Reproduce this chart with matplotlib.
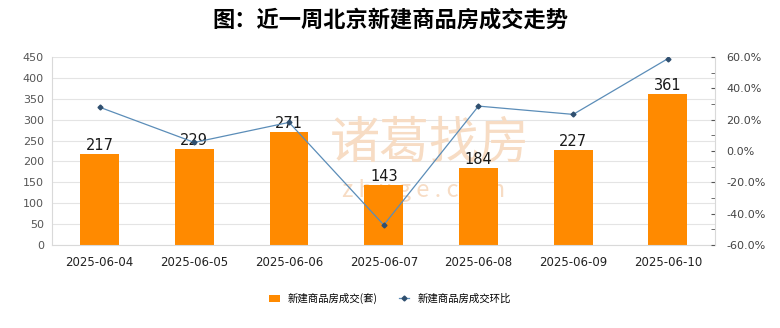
import matplotlib

matplotlib.use("Agg")

import matplotlib.pyplot as plt
from matplotlib.ticker import FuncFormatter, MultipleLocator

plt.rcParams["font.family"] = ["Noto Sans CJK SC", "DejaVu Sans"]

dates = ["2025-06-04", "2025-06-05", "2025-06-06", "2025-06-07", "2025-06-08", "2025-06-09", "2025-06-10"]
deals = [217, 229, 271, 143, 184, 227, 361]
mom_pct = [28.0, 5.5, 18.3, -47.2, 28.7, 23.4, 59.0]

BAR_COLOR = "#ff8a00"
LINE_COLOR = "#5b8db8"
GRID_COLOR = "#e4e4e4"
MARK_COLOR = "#f7dcc4"

fig = plt.figure(figsize=(7.8, 3.28), dpi=100)
ax = fig.add_axes([0.067, 0.253, 0.85, 0.573])
x = list(range(len(dates)))

# watermark sits under the bars
ax.text(0.57, 0.54, "诸葛找房", transform=ax.transAxes, ha="center", va="center",
        fontsize=36, color=MARK_COLOR, zorder=1)
ax.text(0.56, 0.29, "z h u g e . c o m", transform=ax.transAxes, ha="center", va="center",
        fontsize=17, color=MARK_COLOR, zorder=1)

bars = ax.bar(x, deals, width=0.41, color=BAR_COLOR, zorder=2, label="新建商品房成交(套)")
for xi, v in zip(x, deals):
    ax.text(xi, v + 3, str(v), ha="center", va="bottom", fontsize=10.5,
            family="DejaVu Sans", color="#1a1a1a", zorder=5)

ax.set_xlim(-0.5, len(dates) - 0.5)
ax.set_ylim(0, 450)
ax.yaxis.set_major_locator(MultipleLocator(50))
ax.grid(axis="y", color=GRID_COLOR, linewidth=0.8, zorder=0)
ax.set_axisbelow(True)
ax.set_xticks(x)
ax.set_xticklabels(dates, fontsize=8.5, family="DejaVu Sans", color="#222222")
ax.tick_params(axis="x", length=0, pad=8)
ax.tick_params(axis="y", length=0, labelsize=8, labelcolor="#555555", pad=6)
for lab in ax.get_yticklabels():
    lab.set_family("DejaVu Sans")
for side in ["top", "right"]:
    ax.spines[side].set_visible(False)
ax.spines["left"].set_color("#d9d9d9")
ax.spines["bottom"].set_color("#d9d9d9")

ax2 = ax.twinx()
ax2.plot(x, mom_pct, color=LINE_COLOR, linewidth=0.9, marker="D", markersize=2.5,
         markerfacecolor="#2f4f6f", markeredgecolor="#2f4f6f", zorder=4, label="新建商品房成交环比")
ax2.set_ylim(-60, 60)
ax2.yaxis.set_major_locator(MultipleLocator(20))
ax2.yaxis.set_minor_locator(MultipleLocator(10))
ax2.yaxis.set_major_formatter(FuncFormatter(lambda v, p: f"{v:.1f}%"))
ax2.tick_params(axis="y", which="both", direction="in", length=3, color="#555555",
                labelsize=8, labelcolor="#444444", pad=8)
for lab in ax2.get_yticklabels():
    lab.set_family("DejaVu Sans")
for side in ["top", "left", "bottom"]:
    ax2.spines[side].set_visible(False)
ax2.spines["right"].set_color("#d9d9d9")

handles = [bars, ax2.get_lines()[0]]
fig.legend(handles, [h.get_label() for h in handles], loc="center", bbox_to_anchor=(0.5, 0.09),
           ncol=2, frameon=False, fontsize=7.5, handlelength=1.0, handletextpad=0.8,
           columnspacing=2.0)

fig.suptitle("图：近一周北京新建商品房成交走势", fontsize=16, fontweight="bold", y=0.975)

fig.savefig("out.png", dpi=100)
